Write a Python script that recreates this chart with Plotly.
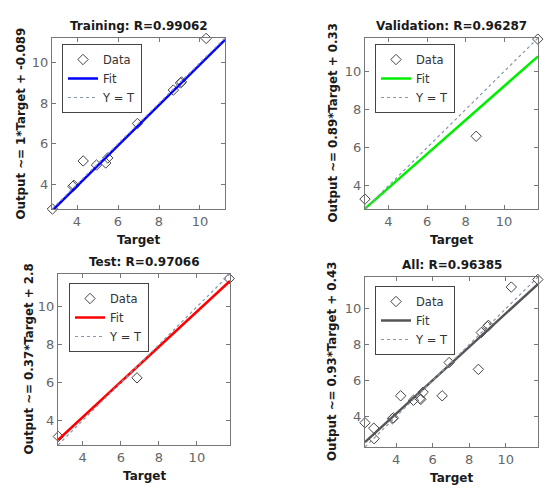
import plotly.graph_objects as go

W, H = 554, 493
OFF = 8  # page body margin, positions below are in screen pixels

# panel titles / labels
titles = ["Training: R=0.99062", "Validation: R=0.96287", "Test: R=0.97066", "All: R=0.96385"]
ylabels = ["Output ~= 1*Target + -0.089", "Output ~= 0.89*Target + 0.33",
           "Output ~= 0.37*Target + 2.8", "Output ~= 0.93*Target + 0.43"]
fit_colors = ["#0000ff", "#00ee00", "#ff0000", "#555555"]

# data
train_t = [2.8, 3.8, 3.85, 4.3, 4.95, 5.4, 5.5, 6.95, 8.7, 9.05, 9.1, 10.3]
train_o = [2.78, 3.9, 3.95, 5.15, 4.95, 5.05, 5.3, 7.0, 8.65, 9.0, 9.05, 11.2]
val_t = [2.78, 8.55, 11.75]
val_o = [3.3, 6.6, 11.7]
test_t = [2.72, 6.85, 11.7]
test_o = [3.15, 6.25, 11.5]
all_t = [2.3, 2.78, 2.8, 3.8, 3.85, 4.25, 4.95, 5.3, 5.35, 5.48, 6.52, 6.9, 8.5, 8.66, 9.0, 9.05, 10.3, 11.75]
all_o = [3.65, 3.35, 2.76, 3.88, 3.92, 5.15, 4.9, 5.0, 4.95, 5.35, 5.15, 7.0, 6.62, 8.67, 9.0, 9.07, 11.2, 11.62]

# fitted lines (slope, intercept) and axis limits
fit_slope = [1.0, 0.89, 0.93, 0.93]
fit_icpt = [-0.089, 0.33, 0.45, 0.43]
lims = [[2.78, 11.22], [2.78, 11.76], [2.7, 11.74], [2.3, 11.76]]

data_t = [train_t, val_t, test_t, all_t]
data_o = [train_o, val_o, test_o, all_o]

# panel boxes in pixels: left, right, top, bottom
boxes = [(52, 225, 38, 209), (365, 538, 38, 209), (58, 230, 274, 445), (365, 538, 277, 447)]
legpos = [(62, 44), (375, 44), (69, 283), (375, 286)]
ylab_x = [20, 332, 28, 332]


def px(x):
    return (x - OFF) / W


def py(y):
    return 1 - (y - OFF) / H


fig = go.Figure()
layout = dict(width=W, height=H, margin=dict(l=0, r=0, t=0, b=0),
              paper_bgcolor="white", plot_bgcolor="white",
              font=dict(family="DejaVu Sans", size=11, color="#333"),
              annotations=[])

for i in range(4):
    ax = "" if i == 0 else str(i + 1)
    leg = "legend" if i == 0 else "legend" + str(i + 1)
    lo, hi = lims[i]
    fig.add_trace(go.Scatter(x=data_t[i], y=data_o[i], mode="markers", name="Data",
                             marker=dict(symbol="diamond-open", size=8, color="#444",
                                         line=dict(width=1)),
                             cliponaxis=False, xaxis="x" + ax, yaxis="y" + ax, legend=leg))
    fx = [lo, hi]
    fy = [fit_slope[i] * v + fit_icpt[i] for v in fx]
    fig.add_trace(go.Scatter(x=fx, y=fy, mode="lines", name="Fit",
                             line=dict(color=fit_colors[i], width=2.5),
                             xaxis="x" + ax, yaxis="y" + ax, legend=leg))
    fig.add_trace(go.Scatter(x=[lo, hi], y=[lo, hi], mode="lines", name="Y = T",
                             line=dict(color="#8796aa", width=1.2, dash="dot"),
                             xaxis="x" + ax, yaxis="y" + ax, legend=leg))

    l, r, t, b = boxes[i]
    axstyle = dict(range=[lo, hi], tickvals=[4, 6, 8, 10], ticks="inside", ticklen=4,
                   tickcolor="#777", showline=True, linecolor="#777", linewidth=1,
                   mirror="ticks", showgrid=False, zeroline=False,
                   tickfont=dict(size=13, color="#666"))
    layout["xaxis" + ax] = dict(axstyle, domain=[px(l), px(r)], anchor="y" + ax)
    layout["yaxis" + ax] = dict(axstyle, domain=[py(b), py(t)], anchor="x" + ax)

    lx, ly = legpos[i]
    layout[leg] = dict(x=px(lx), y=py(ly), xanchor="left", yanchor="top",
                       bgcolor="white", bordercolor="#444", borderwidth=1,
                       font=dict(size=11.5, color="#333"), tracegroupgap=0,
                       itemwidth=30)

    cx = (l + r) / 2
    layout["annotations"] += [
        dict(text="<b>" + titles[i] + "</b>", x=px(cx), y=py(t - 3), xref="paper", yref="paper",
             xanchor="center", yanchor="bottom", showarrow=False, font=dict(size=12, color="#1a1a1a")),
        dict(text="<b>Target</b>", x=px(cx), y=py(b + 22), xref="paper", yref="paper",
             xanchor="center", yanchor="top", showarrow=False, font=dict(size=12, color="#1a1a1a")),
        dict(text="<b>" + ylabels[i] + "</b>", x=px(ylab_x[i]), y=py((t + b) / 2),
             xref="paper", yref="paper", xanchor="center", yanchor="middle", textangle=-90,
             showarrow=False, font=dict(size=11.8, color="#1a1a1a")),
    ]

fig.update_layout(layout)
fig.write_html("out.html")
